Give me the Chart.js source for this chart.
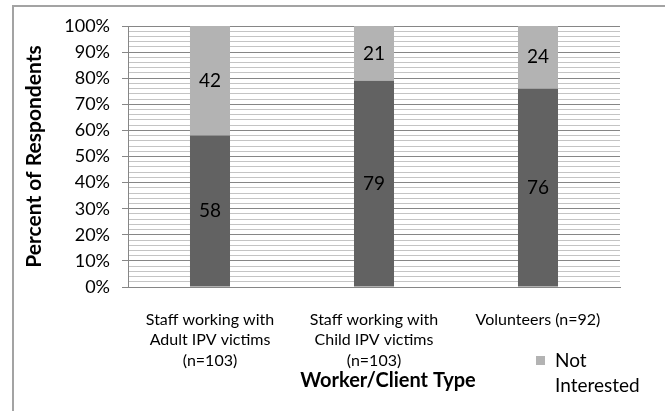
<!DOCTYPE html>
<html>
<head>
<meta charset="utf-8">
<script src="https://cdn.jsdelivr.net/npm/chart.js@4"></script>
<style>
  html, body { margin: 0; padding: 0; background: #fff; }
</style>
</head>
<body>
<canvas id="grafico" width="665" height="411"></canvas>
<script>
const categorias = [
  ['Staff working with', 'Adult IPV victims', '(n=103)'],
  ['Staff working with', 'Child IPV victims', '(n=103)'],
  'Volunteers (n=92)'
];
const interessados = [58, 79, 76];
const naoInteressados = [42, 21, 24];
const yTicks = [0, 10, 20, 30, 40, 50, 60, 70, 80, 90, 100];

const fonte = 'Lato, "Liberation Sans", sans-serif';
const major = v => yTicks.includes(v);

// frame, value labels, x title and legend
const extras = {
  id: 'extras',
  beforeDraw(chart) {
    const c = chart.ctx;
    c.save();
    c.strokeStyle = '#a3a3a3';
    c.lineWidth = 2;
    c.beginPath();
    c.moveTo(13, 411);
    c.lineTo(13, 6);
    c.lineTo(665, 6);
    c.stroke();
    c.restore();
  },
  afterDatasetsDraw(chart) {
    const c = chart.ctx;
    c.save();
    c.fillStyle = '#000';
    c.font = '19px ' + fonte;
    c.textAlign = 'center';
    c.textBaseline = 'middle';
    chart.data.datasets.forEach((ds, i) => {
      chart.getDatasetMeta(i).data.forEach((bar, j) => {
        const p = bar.getProps(['x', 'y', 'base'], true);
        c.fillText(ds.data[j], p.x, (p.y + p.base) / 2);
      });
    });
    c.restore();
  },
  afterDraw(chart) {
    const c = chart.ctx;
    c.save();
    c.fillStyle = '#000';
    c.textBaseline = 'middle';
    c.textAlign = 'center';
    c.font = 'bold 20px ' + fonte;
    c.fillText('Worker/Client Type', 388, 381);
    // legend (only the Not Interested entry is visible)
    const ds = chart.data.datasets[1];
    c.fillStyle = ds.backgroundColor;
    c.fillRect(536, 356, 9, 9);
    c.fillStyle = '#000';
    c.textAlign = 'left';
    c.font = '19px ' + fonte;
    c.fillText('Not', 555, 361);
    c.fillText('Interested', 555, 386);
    c.restore();
  }
};

new Chart(document.getElementById('grafico'), {
  type: 'bar',
  data: {
    labels: categorias,
    datasets: [
      { label: 'Interested', data: interessados, backgroundColor: '#626262' },
      { label: 'Not Interested', data: naoInteressados, backgroundColor: '#b3b3b3' }
    ]
  },
  options: {
    responsive: false,
    animation: false,
    layout: { padding: { left: 0, top: 26, right: 45, bottom: 0 } },
    datasets: { bar: { categoryPercentage: 1, barPercentage: 0.244 } },
    plugins: {
      legend: { display: false },
      tooltip: { enabled: false }
    },
    scales: {
      x: {
        stacked: true,
        afterFit: s => { s.height = 124; },
        grid: { display: false, drawTicks: false },
        border: { color: '#868686', width: 1 },
        ticks: {
          padding: 22,
          maxRotation: 0,
          color: '#000',
          font: { family: fonte, size: 16, lineHeight: 1.3 }
        }
      },
      y: {
        stacked: true,
        min: 0,
        max: 100,
        afterFit: s => { s.width = 128; },
        border: { color: '#868686', width: 1 },
        grid: {
          color: ctx => major(ctx.tick.value) ? '#868686' : '#c4c4c4',
          tickColor: ctx => major(ctx.tick.value) ? '#868686' : 'rgba(0,0,0,0)',
          tickLength: 6
        },
        ticks: {
          stepSize: 2,
          autoSkip: false,
          padding: 12,
          color: '#000',
          font: { family: fonte, size: 18 },
          callback: v => major(v) ? v + '%' : ''
        },
        title: {
          display: true,
          text: 'Percent of Respondents',
          color: '#000',
          padding: { top: 22, bottom: 0 },
          font: { family: fonte, size: 21, weight: 'bold' }
        }
      }
    }
  },
  plugins: [extras]
});
</script>
</body>
</html>
